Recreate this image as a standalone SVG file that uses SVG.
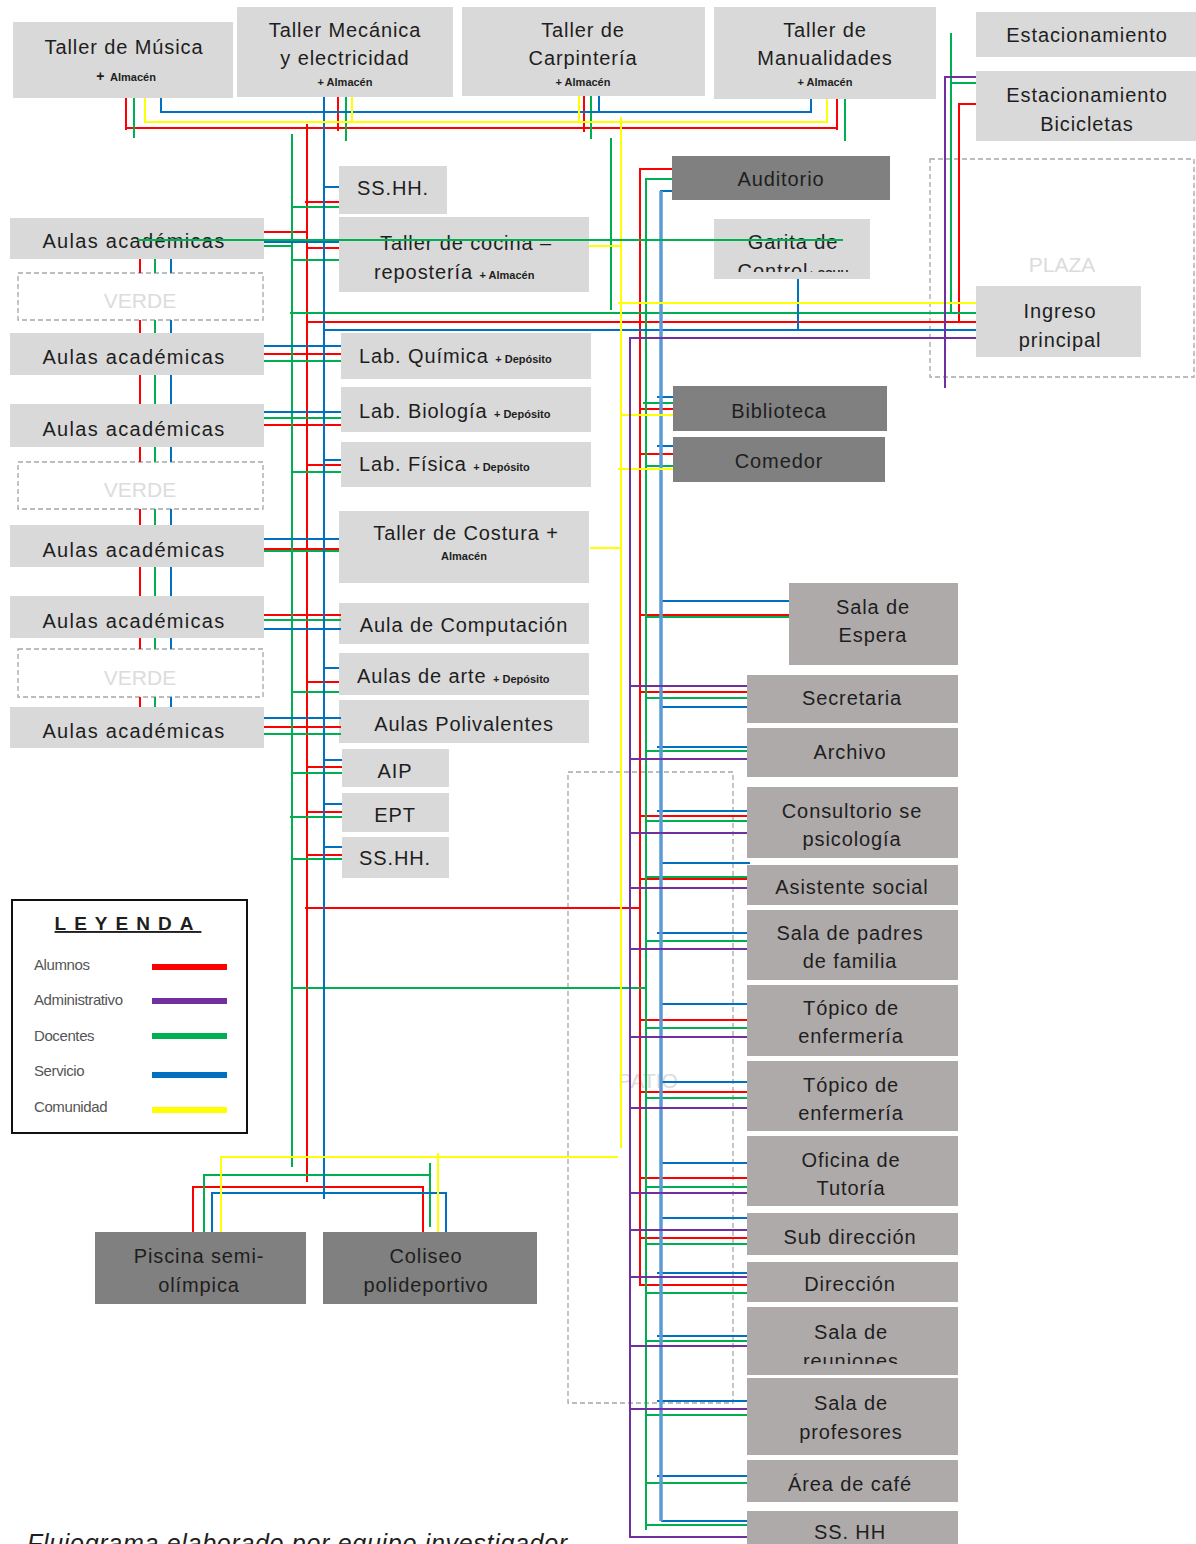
<svg xmlns="http://www.w3.org/2000/svg" width="1196" height="1544" viewBox="0 0 1196 1544">
<style>
  .lt{fill:#d9d9d9}
  .dk{fill:#808080}
  .md{fill:#aeaaaa}
  .zone{fill:none;stroke:#a6a6a6;stroke-width:1.3;stroke-dasharray:5 3}
  text{font-family:"Liberation Sans",Arial,Helvetica,sans-serif;fill:#1e1e1e}
  .t{font-size:20px;text-anchor:middle;letter-spacing:0.9px}
  .tl{font-size:20px;letter-spacing:0.9px}
  .wide{letter-spacing:1.3px}
  .sm{font-size:11px;font-weight:bold;letter-spacing:0}
  .pl{font-size:14px;font-weight:bold}
  .ghost{font-size:21px;text-anchor:middle;fill:#dcdcdc}
  .lg{font-size:15px;fill:#555;letter-spacing:-0.4px}
  .c path,.c line{fill:none;stroke-width:2}
  .r{stroke:#ff0000}
  .g{stroke:#00b050}
  .b{stroke:#0070c0}
  .y{stroke:#ffff00}
  .p{stroke:#7030a0}
  .c .bl{stroke:#5b9bd5;stroke-width:3.5}
  .c .key{stroke-width:6}
</style>
<defs>
  <clipPath id="clipGarita"><rect x="714" y="219" width="156" height="53"/></clipPath>
  <clipPath id="clipReun"><rect x="747" y="1307" width="211" height="57"/></clipPath>
</defs>
<rect width="1196" height="1544" fill="#ffffff"/>

<!-- open areas -->
<g id="zones">
  <rect class="zone" x="18" y="273" width="245" height="47" fill="#fff"/>
  <text class="ghost" x="140" y="308">VERDE</text>
  <rect class="zone" x="18" y="462" width="245" height="47"/>
  <text class="ghost" x="140" y="497">VERDE</text>
  <rect class="zone" x="18" y="649" width="245" height="48"/>
  <text class="ghost" x="140" y="685">VERDE</text>
  <rect class="zone" x="930" y="159" width="264" height="218"/>
  <text class="ghost" x="1062" y="272">PLAZA</text>
  <rect class="zone" x="568" y="772" width="165" height="631"/>
  <text class="ghost" x="648" y="1088">PATIO</text>
</g>

<!-- workshops along the top -->
<g id="n-musica"><rect class="lt" x="13" y="22" width="220" height="76"/>
  <text class="t" x="124" y="54">Taller de Música</text>
  <text class="t" x="126" y="81"><tspan class="pl">+ </tspan><tspan class="sm">Almacén</tspan></text></g>
<g id="n-mecanica"><rect class="lt" x="237" y="7" width="216" height="90"/>
  <text class="t" x="345" y="37">Taller Mecánica</text>
  <text class="t" x="345" y="65">y electricidad</text>
  <text class="t sm" x="345" y="86">+ Almacén</text></g>
<g id="n-carpinteria"><rect class="lt" x="462" y="7" width="243" height="89"/>
  <text class="t" x="583" y="37">Taller de</text>
  <text class="t" x="583" y="65">Carpintería</text>
  <text class="t sm" x="583" y="86">+ Almacén</text></g>
<g id="n-manualidades"><rect class="lt" x="714" y="7" width="222" height="92"/>
  <text class="t" x="825" y="37">Taller de</text>
  <text class="t" x="825" y="65">Manualidades</text>
  <text class="t sm" x="825" y="86">+ Almacén</text></g>
<g id="n-estacionamiento"><rect class="lt" x="976" y="12" width="220" height="45"/>
  <text class="t" x="1087" y="42">Estacionamiento</text></g>
<g id="n-bicicletas"><rect class="lt" x="976" y="71" width="220" height="70"/>
  <text class="t" x="1087" y="102">Estacionamiento</text>
  <text class="t" x="1087" y="131">Bicicletas</text></g>
<g id="n-ingreso"><rect class="lt" x="976" y="286" width="165" height="71"/>
  <text class="t" x="1060" y="318">Ingreso</text>
  <text class="t" x="1060" y="347">principal</text></g>

<!-- central block -->
<g id="n-sshh1"><rect class="lt" x="339" y="166" width="108" height="48"/>
  <text class="t" x="393" y="195">SS.HH.</text></g>
<g id="n-cocina"><rect class="lt" x="339" y="217" width="250" height="75"/>
  <text class="t" x="466" y="250">Taller de cocina –</text>
  <text class="tl" x="374" y="279">repostería <tspan class="sm">+ Almacén</tspan></text></g>
<g id="n-auditorio"><rect class="dk" x="672" y="156" width="218" height="44"/>
  <text class="t" x="781" y="186">Auditorio</text></g>
<g id="n-garita"><rect class="lt" x="714" y="219" width="156" height="60"/>
  <g clip-path="url(#clipGarita)">
    <text class="t" x="793" y="249">Garita de</text>
    <text class="t" x="793" y="278">Control<tspan class="sm">+ SSHH</tspan></text>
  </g></g>

<g id="n-aulas1"><rect class="lt" x="10" y="218" width="254" height="41"/>
  <text class="t wide" x="134" y="248">Aulas académicas</text></g>
<g id="n-aulas2"><rect class="lt" x="10" y="333" width="254" height="42"/>
  <text class="t wide" x="134" y="364">Aulas académicas</text></g>
<g id="n-aulas3"><rect class="lt" x="10" y="404" width="254" height="43"/>
  <text class="t wide" x="134" y="436">Aulas académicas</text></g>
<g id="n-aulas4"><rect class="lt" x="10" y="525" width="254" height="42"/>
  <text class="t wide" x="134" y="557">Aulas académicas</text></g>
<g id="n-aulas5"><rect class="lt" x="10" y="596" width="254" height="42"/>
  <text class="t wide" x="134" y="628">Aulas académicas</text></g>
<g id="n-aulas6"><rect class="lt" x="10" y="707" width="254" height="41"/>
  <text class="t wide" x="134" y="738">Aulas académicas</text></g>

<g id="n-quimica"><rect class="lt" x="341" y="333" width="250" height="46"/>
  <text class="tl" x="359" y="363">Lab. Química <tspan class="sm">+ Depósito</tspan></text></g>
<g id="n-biologia"><rect class="lt" x="341" y="387" width="250" height="45"/>
  <text class="tl" x="359" y="418">Lab. Biología <tspan class="sm">+ Depósito</tspan></text></g>
<g id="n-fisica"><rect class="lt" x="341" y="442" width="250" height="45"/>
  <text class="tl" x="359" y="471">Lab. Física <tspan class="sm">+ Depósito</tspan></text></g>
<g id="n-costura"><rect class="lt" x="339" y="511" width="250" height="72"/>
  <text class="t" x="466" y="540">Taller de Costura +</text>
  <text class="t sm" x="464" y="560">Almacén</text></g>
<g id="n-computacion"><rect class="lt" x="339" y="603" width="250" height="41"/>
  <text class="t" x="464" y="632">Aula de Computación</text></g>
<g id="n-arte"><rect class="lt" x="339" y="653" width="250" height="42"/>
  <text class="tl" x="357" y="683">Aulas de arte <tspan class="sm">+ Depósito</tspan></text></g>
<g id="n-polivalentes"><rect class="lt" x="339" y="700" width="250" height="43"/>
  <text class="t" x="464" y="731">Aulas Polivalentes</text></g>
<g id="n-aip"><rect class="lt" x="342" y="749" width="107" height="38"/>
  <text class="t" x="395" y="778">AIP</text></g>
<g id="n-ept"><rect class="lt" x="342" y="793" width="107" height="39"/>
  <text class="t" x="395" y="822">EPT</text></g>
<g id="n-sshh2"><rect class="lt" x="342" y="837" width="107" height="41"/>
  <text class="t" x="395" y="865">SS.HH.</text></g>

<!-- sports -->
<g id="n-piscina"><rect class="dk" x="95" y="1232" width="211" height="72"/>
  <text class="t" x="199" y="1263">Piscina semi-</text>
  <text class="t" x="199" y="1292">olímpica</text></g>
<g id="n-coliseo"><rect class="dk" x="323" y="1232" width="214" height="72"/>
  <text class="t" x="426" y="1263">Coliseo</text>
  <text class="t" x="426" y="1292">polideportivo</text></g>

<!-- services and administration -->
<g id="n-biblioteca"><rect class="dk" x="673" y="386" width="214" height="45"/>
  <text class="t" x="779" y="418">Biblioteca</text></g>
<g id="n-comedor"><rect class="dk" x="673" y="437" width="212" height="45"/>
  <text class="t" x="779" y="468">Comedor</text></g>
<g id="n-espera"><rect class="md" x="789" y="583" width="169" height="82"/>
  <text class="t" x="873" y="614">Sala de</text>
  <text class="t" x="873" y="642">Espera</text></g>
<g id="n-secretaria"><rect class="md" x="747" y="675" width="211" height="48"/>
  <text class="t" x="852" y="705">Secretaria</text></g>
<g id="n-archivo"><rect class="md" x="747" y="728" width="211" height="49"/>
  <text class="t" x="850" y="759">Archivo</text></g>
<g id="n-consultorio"><rect class="md" x="747" y="787" width="211" height="71"/>
  <text class="t" x="852" y="818">Consultorio se</text>
  <text class="t" x="852" y="846">psicología</text></g>
<g id="n-asistente"><rect class="md" x="747" y="865" width="211" height="40"/>
  <text class="t" x="852" y="894">Asistente social</text></g>
<g id="n-padres"><rect class="md" x="747" y="910" width="211" height="70"/>
  <text class="t" x="850" y="940">Sala de padres</text>
  <text class="t" x="850" y="968">de familia</text></g>
<g id="n-topico1"><rect class="md" x="747" y="985" width="211" height="71"/>
  <text class="t" x="851" y="1015">Tópico de</text>
  <text class="t" x="851" y="1043">enfermería</text></g>
<g id="n-topico2"><rect class="md" x="747" y="1061" width="211" height="70"/>
  <text class="t" x="851" y="1092">Tópico de</text>
  <text class="t" x="851" y="1120">enfermería</text></g>
<g id="n-tutoria"><rect class="md" x="747" y="1136" width="211" height="70"/>
  <text class="t" x="851" y="1167">Oficina de</text>
  <text class="t" x="851" y="1195">Tutoría</text></g>
<g id="n-subdireccion"><rect class="md" x="747" y="1213" width="211" height="42"/>
  <text class="t" x="850" y="1244">Sub dirección</text></g>
<g id="n-direccion"><rect class="md" x="747" y="1262" width="211" height="40"/>
  <text class="t" x="850" y="1291">Dirección</text></g>
<g id="n-reuniones"><rect class="md" x="747" y="1307" width="211" height="68"/>
  <g clip-path="url(#clipReun)">
    <text class="t" x="851" y="1339">Sala de</text>
    <text class="t" x="851" y="1368">reuniones</text>
  </g></g>
<g id="n-profesores"><rect class="md" x="747" y="1378" width="211" height="77"/>
  <text class="t" x="851" y="1410">Sala de</text>
  <text class="t" x="851" y="1439">profesores</text></g>
<g id="n-cafe"><rect class="md" x="747" y="1460" width="211" height="42"/>
  <text class="t" x="850" y="1491">Área de café</text></g>
<g id="n-sshh3"><rect class="md" x="747" y="1511" width="211" height="40"/>
  <text class="t" x="850" y="1539">SS. HH</text></g>

<!-- circulation routes -->
<g id="connectors" class="c">
  <!-- Alumnos -->
  <path class="r" d="M126 98V130M126 128H837M837 99V130M338 97V131M584 96V132
    M307 124V1182M305 202H339M264 232H308M308 248H339
    M307 322H976M959 322V104H976
    M264 354H341M264 425H341M308 465H341M264 549H339M264 615H341M308 682H339M264 727H341
    M307 767H342M307 812H342M307 855H342M305 908H640
    M193 1232V1187H423V1232
    M140 259V273M140 320V333M140 375V404M140 447V462M140 509V525M140 567V596M140 638V649M140 697V707
    M639 169H672M640 169V1285H747
    M640 409H673M640 454H673M640 615H789M640 692H747M640 816H747M640 879H747
    M640 1020H747M640 1092H747M640 1178H747M640 1238H747"/>
  <!-- Docentes -->
  <path class="g" d="M134 98V138M346 97V141M591 96V139M845 99V141
    M292 134V1167M292 207H339M264 246H292M292 260H339M611 138V310
    M290 313H976M951 33V313M951 83H976
    M264 361H341M264 418H341M292 472H341M264 551H339M264 620H341M292 692H339M264 734H341
    M292 773H342M290 817H342M292 859H342M292 988H646
    M204 1232V1175H430M430 1163V1227
    M155 259V273M155 320V333M155 375V404M155 447V462M155 509V525M155 567V596M155 638V649M155 697V707
    M645 179H672M646 179V1530
    M643 403H673M646 466H673M646 617H789M646 698H747M646 751H747M646 821H747M646 877H747
    M646 941H747M646 1028H747M646 1098H747M646 1187H747M646 1244H747M646 1293H747
    M646 1341H747M646 1415H747M646 1483H747M646 1525H747"/>
  <!-- Servicio -->
  <path class="b" d="M161 98V112H811V99M599 96V112
    M324 97V1199M324 187H339M264 242H339
    M324 330H976M798 279V330
    M264 346H341M264 412H341M324 460H341M264 539H339M264 629H341M324 668H339M264 718H341
    M324 760H342M324 804H342M324 847H342
    M212 1232V1193H446V1232
    M171 259V273M171 320V333M171 375V404M171 447V462M171 509V525M171 567V596M171 638V649M171 697V707
    M660 191H672
    M657 397H673M657 446H673M661 601H789M661 707H747M657 747H747M657 811H747M661 863H750
    M657 933H747M661 1004H747M661 1082H747M661 1163H747M661 1218H747M657 1273H747
    M657 1336H747M657 1401H747M657 1476H747M661 1521H747"/>
  <path class="bl" d="M661 191V1521"/>
  <!-- Comunidad -->
  <path class="y" d="M145 98V122H827V99M352 97V122M579 96V122
    M621 117V1148M589 246H621M618 303H976
    M621 415H673M618 469H673M590 548H621
    M618 1157H221V1232M438 1153V1232"/>
  <!-- Administrativo -->
  <path class="p" d="M976 77H945V388M976 338H630V1537H747
    M630 686H747M630 759H747M630 833H747M630 888H747M630 949H747M630 1037H747
    M630 1108H747M630 1193H747M630 1230H747M630 1277H747M630 1346H747M630 1409H747"/>
  <!-- teachers' route across the block -->
  <path class="g" d="M138 240H843"/>
</g>

<!-- key -->
<g id="legend">
  <rect x="12" y="900" width="235" height="233" fill="#fff" stroke="#111" stroke-width="2"/>
  <text x="128" y="930" font-size="19" font-weight="bold" text-anchor="middle" letter-spacing="8" text-decoration="underline">LEYENDA</text>
  <text class="lg" x="34" y="970">Alumnos</text>
  <text class="lg" x="34" y="1005">Administrativo</text>
  <text class="lg" x="34" y="1041">Docentes</text>
  <text class="lg" x="34" y="1076">Servicio</text>
  <text class="lg" x="34" y="1112">Comunidad</text>
  <g class="c">
    <line class="r key" x1="152" y1="967" x2="227" y2="967"/>
    <line class="p key" x1="152" y1="1001" x2="227" y2="1001"/>
    <line class="g key" x1="152" y1="1036" x2="227" y2="1036"/>
    <line class="b key" x1="152" y1="1075" x2="227" y2="1075"/>
    <line class="y key" x1="152" y1="1110" x2="227" y2="1110"/>
  </g>
</g>

<text x="27" y="1552" font-size="25" font-style="italic" letter-spacing="0.7" fill="#000">Flujograma elaborado por equipo investigador</text>
</svg>
